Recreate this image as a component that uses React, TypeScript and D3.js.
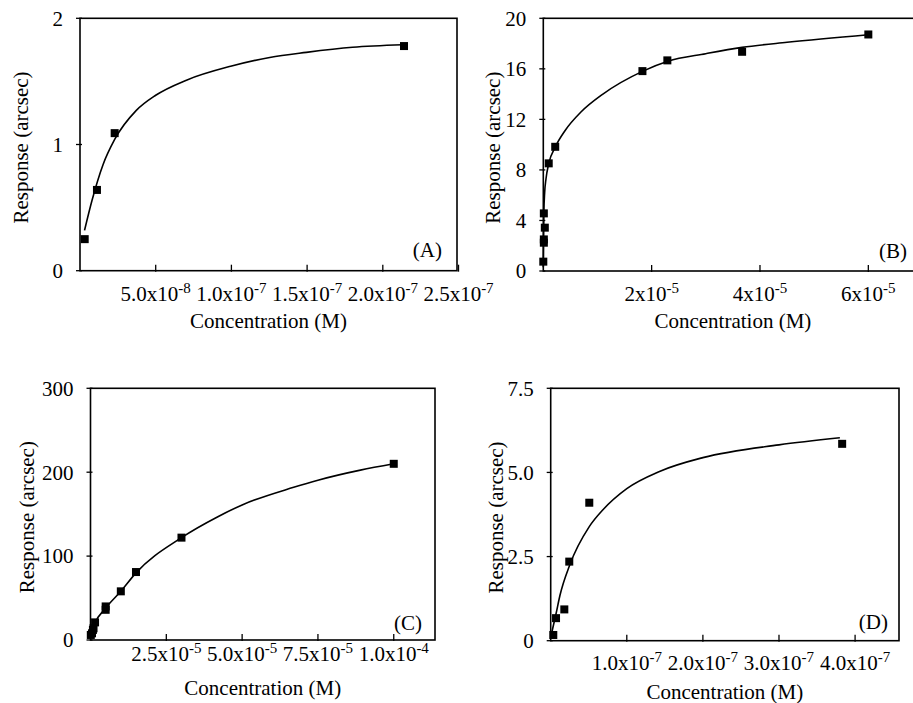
import React from 'react';
import * as d3 from 'd3';

// ---------- Panel A ----------
const aConc = [3.1e-9, 1.12e-8, 2.29e-8, 2.14e-7];
const aResp = [0.25, 0.64, 1.09, 1.78];
const aFitConc = [3e-9, 8e-9, 1.52e-8, 2.29e-8, 3.72e-8, 5e-8, 7.03e-8, 9.95e-8, 1.253e-7, 1.495e-7, 1.8e-7, 2.13e-7];
const aFitResp = [0.32, 0.56, 0.84, 1.04, 1.27, 1.39, 1.51, 1.62, 1.69, 1.73, 1.77, 1.79];
const aXTicks = [5e-8, 1e-7, 1.5e-7, 2e-7, 2.5e-7];
const aXTickMant = ['5.0x10', '1.0x10', '1.5x10', '2.0x10', '2.5x10'];
const aXTickExp = ['-8', '-7', '-7', '-7', '-7'];
const aYTicks = [0, 1, 2];
const aYTickLabels = ['0', '1', '2'];

// ---------- Panel B ----------
const bConc = [0, 1e-7, 1e-7, 2.8e-7, 1e-7, 1e-6, 2.2e-6, 1.83e-5, 2.29e-5, 3.67e-5, 6.0e-5];
const bResp = [0.74, 2.24, 2.5, 3.43, 4.56, 8.52, 9.83, 15.82, 16.67, 17.35, 18.72];
const bFitConc = [0, 5e-8, 1e-7, 2.5e-7, 5e-7, 1e-6, 2.2e-6, 4e-6, 7e-6, 1.1e-5, 1.83e-5, 2.3e-5, 3e-5, 3.67e-5, 4.5e-5, 6e-5];
const bFitResp = [0.3, 2.5, 4.6, 6.2, 7.3, 8.5, 9.8, 11.1, 12.6, 14.0, 15.8, 16.6, 17.2, 17.7, 18.1, 18.7];
const bXTicks = [2e-5, 4e-5, 6e-5];
const bXTickMant = ['2x10', '4x10', '6x10'];
const bXTickExp = ['-5', '-5', '-5'];
const bYTicks = [0, 4, 8, 12, 16, 20];
const bYTickLabels = ['0', '4', '8', '12', '16', '20'];

// ---------- Panel C ----------
const cConc = [1e-7, 5e-7, 8e-7, 1e-6, 1.5e-6, 5e-6, 5e-6, 1e-5, 1.5e-5, 3e-5, 1e-4];
const cResp = [6, 8, 12, 14, 21, 40, 36, 58, 81, 122, 210];
const cFitConc = [0, 1.5e-6, 5e-6, 1e-5, 1.5e-5, 3e-5, 4.2e-5, 5e-5, 6.7e-5, 7.5e-5, 8.9e-5, 1e-4];
const cFitResp = [3, 20, 38, 58, 80, 122, 147, 161, 182, 190.5, 202.5, 210];
const cXTicks = [2.5e-5, 5e-5, 7.5e-5, 1e-4];
const cXTickMant = ['2.5x10', '5.0x10', '7.5x10', '1.0x10'];
const cXTickExp = ['-5', '-5', '-5', '-4'];
const cYTicks = [0, 100, 200, 300];
const cYTickLabels = ['0', '100', '200', '300'];

// ---------- Panel D ----------
const dConc = [3.4e-9, 7e-9, 1.79e-8, 2.44e-8, 5.07e-8, 3.83e-7];
const dResp = [0.17, 0.67, 0.93, 2.35, 4.1, 5.85];
const dFitConc = [0, 7e-9, 1.22e-8, 2.5e-8, 5.07e-8, 6.9e-8, 1e-7, 1.43e-7, 2e-7, 3e-7, 3.8e-7];
const dFitResp = [0.1, 0.8, 1.35, 2.25, 3.39, 3.9, 4.52, 5.03, 5.44, 5.82, 6.03];
const dXTicks = [1e-7, 2e-7, 3e-7, 4e-7];
const dXTickMant = ['1.0x10', '2.0x10', '3.0x10', '4.0x10'];
const dXTickExp = ['-7', '-7', '-7', '-7'];
const dYTicks = [0, 2.5, 5, 7.5];
const dYTickLabels = ['0', '2.5', '5.0', '7.5'];

const xTitle = 'Concentration (M)';
const yTitle = 'Response (arcsec)';

const FONT = '"Liberation Serif", "Times New Roman", serif';
const FS = 21;
const FS_EXP = 15;

interface PanelProps {
  conc: number[];
  resp: number[];
  fitConc: number[];
  fitResp: number[];
  xTicks: number[];
  xMant: string[];
  xExp: string[];
  yTicks: number[];
  yLabels: string[];
  letter: string;
  xDomain: [number, number];
  yDomain: [number, number];
  left: number;
  right: number;
  top: number;
  bottom: number;
  xTickBaseline: number;
  xTitleBaseline: number;
  yTitleX: number;
  letterX: number;
  letterY: number;
}

function Panel(p: PanelProps) {
  const x = d3.scaleLinear().domain(p.xDomain).range([p.left, p.right]);
  const y = d3.scaleLinear().domain(p.yDomain).range([p.bottom, p.top]);
  const line = d3
    .line<number>()
    .x((_, i) => x(p.fitConc[i]))
    .y((d) => y(d))
    .curve(d3.curveMonotoneX);
  const fitPath = line(p.fitResp) || '';
  const ms = 8;
  return (
    <g fontFamily={FONT} fill="#000">
      <rect
        x={p.left}
        y={p.top}
        width={p.right - p.left}
        height={p.bottom - p.top}
        fill="none"
        stroke="#000"
        strokeWidth={1.6}
      />
      {p.yTicks.map((t, i) => (
        <g key={'yt' + i}>
          <line x1={p.left - 4} x2={p.left + 2} y1={y(t)} y2={y(t)} stroke="#000" strokeWidth={1.3} />
          <text x={p.left - 17} y={y(t)} dy="0.35em" textAnchor="end" fontSize={FS}>
            {p.yLabels[i]}
          </text>
        </g>
      ))}
      {p.xTicks.map((t, i) => (
        <g key={'xt' + i}>
          <line x1={x(t)} x2={x(t)} y1={p.bottom - 6} y2={p.bottom + 1} stroke="#000" strokeWidth={1.3} />
          <text x={x(t)} y={p.xTickBaseline} textAnchor="middle" fontSize={FS}>
            <tspan>{p.xMant[i]}</tspan>
            <tspan dy={-8} fontSize={FS_EXP}>{p.xExp[i]}</tspan>
          </text>
        </g>
      ))}
      <path d={fitPath} fill="none" stroke="#000" strokeWidth={1.6} />
      {p.conc.map((c, i) => (
        <rect key={'m' + i} x={x(c) - ms / 2} y={y(p.resp[i]) - ms / 2} width={ms} height={ms} fill="#000" />
      ))}
      <text x={p.letterX} y={p.letterY} textAnchor="end" fontSize={FS}>
        {p.letter}
      </text>
      <text x={(p.left + p.right) / 2} y={p.xTitleBaseline} textAnchor="middle" fontSize={FS}>
        {xTitle}
      </text>
      <text
        transform={`translate(${p.yTitleX},${(p.top + p.bottom) / 2 + 3}) rotate(-90)`}
        textAnchor="middle"
        fontSize={FS}
      >
        {yTitle}
      </text>
    </g>
  );
}

export default function App() {
  return (
    <svg
      width={913}
      height={703}
      viewBox="0 0 913 703"
      style={{ position: 'absolute', left: 0, top: 0, background: '#fff', display: 'block' }}
    >
      <rect x={0} y={0} width={913} height={703} fill="#fff" />
      <Panel
        conc={aConc} resp={aResp} fitConc={aFitConc} fitResp={aFitResp}
        xTicks={aXTicks} xMant={aXTickMant} xExp={aXTickExp}
        yTicks={aYTicks} yLabels={aYTickLabels} letter="(A)"
        xDomain={[0, 2.49e-7]} yDomain={[0, 2]}
        left={80} right={457} top={18.3} bottom={270.7}
        xTickBaseline={301} xTitleBaseline={328} yTitleX={28}
        letterX={442} letterY={257}
      />
      <Panel
        conc={bConc} resp={bResp} fitConc={bFitConc} fitResp={bFitResp}
        xTicks={bXTicks} xMant={bXTickMant} xExp={bXTickExp}
        yTicks={bYTicks} yLabels={bYTickLabels} letter="(B)"
        xDomain={[0, 7e-5]} yDomain={[0, 20]}
        left={543.3} right={922.5} top={18.3} bottom={271}
        xTickBaseline={301} xTitleBaseline={328} yTitleX={500}
        letterX={907} letterY={258}
      />
      <Panel
        conc={cConc} resp={cResp} fitConc={cFitConc} fitResp={cFitResp}
        xTicks={cXTicks} xMant={cXTickMant} xExp={cXTickExp}
        yTicks={cYTicks} yLabels={cYTickLabels} letter="(C)"
        xDomain={[0, 1.136e-4]} yDomain={[0, 300]}
        left={90.5} right={435} top={388.3} bottom={640}
        xTickBaseline={661} xTitleBaseline={695} yTitleX={34}
        letterX={422} letterY={630}
      />
      <Panel
        conc={dConc} resp={dResp} fitConc={dFitConc} fitResp={dFitResp}
        xTicks={dXTicks} xMant={dXTickMant} xExp={dXTickExp}
        yTicks={dYTicks} yLabels={dYTickLabels} letter="(D)"
        xDomain={[0, 4.577e-7]} yDomain={[0, 7.5]}
        left={550.7} right={899} top={388.3} bottom={640.7}
        xTickBaseline={670} xTitleBaseline={699} yTitleX={503}
        letterX={888} letterY={629}
      />
    </svg>
  );
}
